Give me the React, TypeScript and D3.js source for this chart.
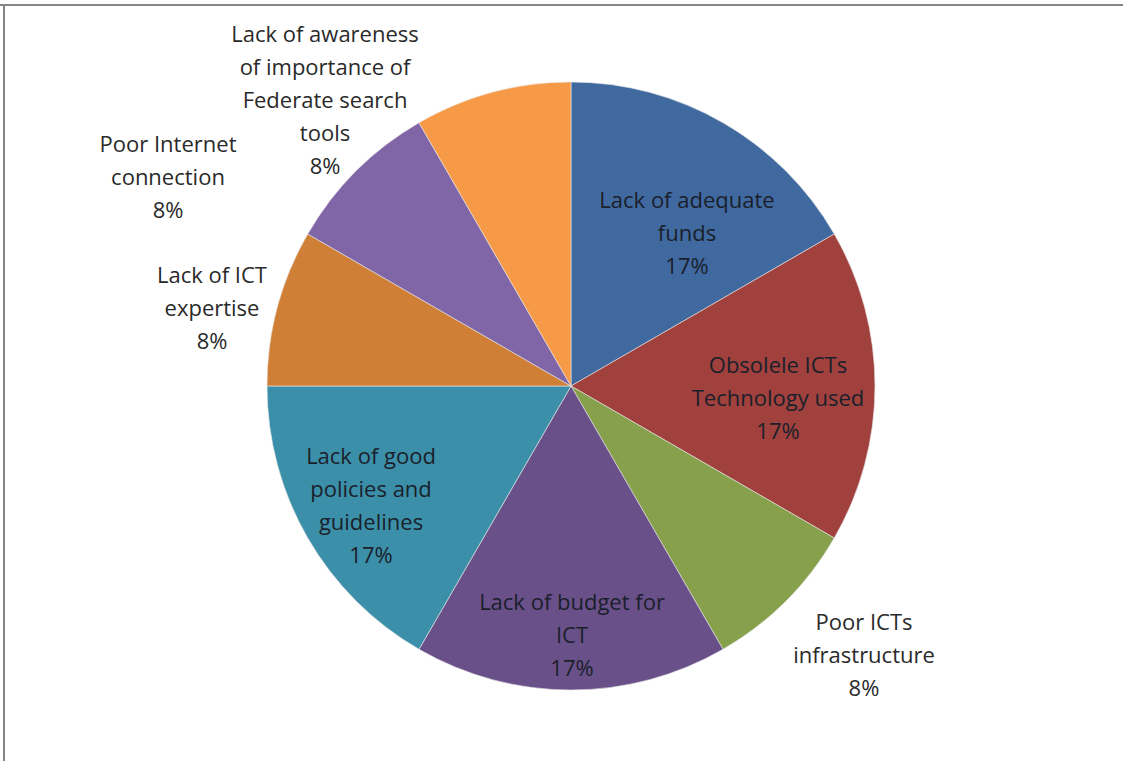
import React from "react";
import * as d3 from "d3";

const categories = [
  "Lack of adequate funds",
  "Obsolele ICTs Technology used",
  "Poor ICTs infrastructure",
  "Lack of budget for ICT",
  "Lack of good policies and guidelines",
  "Lack of ICT expertise",
  "Poor Internet connection",
  "Lack of awareness of importance of Federate search tools",
];
const values = [2, 2, 1, 2, 2, 1, 1, 1];
const labelLines = [
  ["Lack of adequate", "funds"],
  ["Obsolele ICTs", "Technology used"],
  ["Poor ICTs", "infrastructure"],
  ["Lack of budget for", "ICT"],
  ["Lack of good", "policies and", "guidelines"],
  ["Lack of ICT", "expertise"],
  ["Poor Internet", "connection"],
  ["Lack of awareness", "of importance of", "Federate search", "tools"],
];
const colors = [
  "#4069A0",
  "#A1413D",
  "#87A04B",
  "#6A5089",
  "#3C8FA9",
  "#D07F37",
  "#8166A7",
  "#F79A48",
];
// label block first-line offsets from pie centre — layout only
const labelTop = [
  [116, -186],
  [207, -21],
  [293, 236],
  [1, 216],
  [-200, 70],
  [-359, -111],
  [-403, -242],
  [-246, -352],
];
const inside = [true, true, false, true, true, false, false, false];

export default function App() {
  const W = 1123, H = 761;
  const cx = 571, cy = 386, R = 304;
  const total = d3.sum(values);
  const pie = d3.pie<number>().sort(null).value((d) => d)(values);
  const arc = d3.arc<d3.PieArcDatum<number>>().innerRadius(0).outerRadius(R);
  const fmt = (v: number) => `${Math.round((v / total) * 100)}%`;
  const lh = 33;
  return (
    <svg width={W} height={H} style={{ position: "absolute", left: 0, top: 0, background: "#fff" }}
      fontFamily="'Open Sans', sans-serif">
      <line x1={0} y1={5} x2={W} y2={5} stroke="#858585" strokeWidth={2} />
      <line x1={4} y1={5} x2={4} y2={H} stroke="#858585" strokeWidth={2} />
      <g transform={`translate(${cx},${cy})`}>
        {pie.map((p, i) => (
          <path key={categories[i]} d={arc(p) || ""} fill={colors[i]} stroke="#e8e8e8" strokeWidth={0.6} />
        ))}
        {pie.map((p, i) => {
          const lines = [...labelLines[i], fmt(values[i])];
          const [lx, ly] = labelTop[i];
          return (
            <text key={"t" + i} textAnchor="middle" fontSize={22}
              fill={inside[i] ? "#1a1f2b" : "#2a2a2a"}>
              {lines.map((s, j) => (
                <tspan key={j} x={lx} y={ly + j * lh} dy="0.35em">{s}</tspan>
              ))}
            </text>
          );
        })}
      </g>
    </svg>
  );
}
